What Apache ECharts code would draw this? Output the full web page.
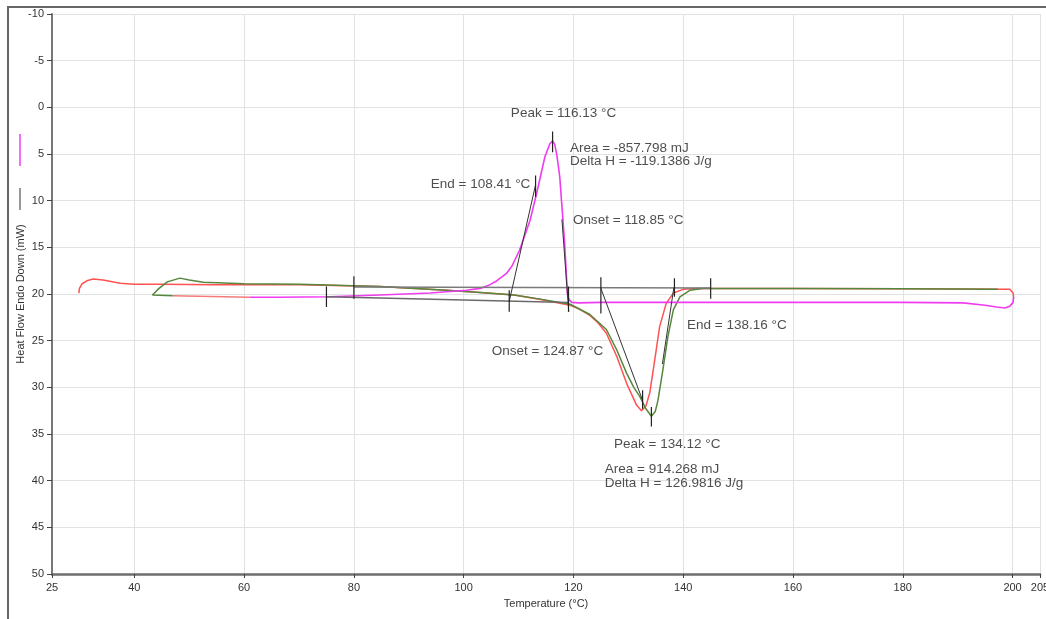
<!DOCTYPE html>
<html>
<head>
<meta charset="utf-8">
<script src="https://cdn.jsdelivr.net/npm/echarts@6/dist/echarts.min.js"></script>
<style>
html,body{margin:0;padding:0;background:#fff;}
#chart{width:1046px;height:619px;}
</style>
</head>
<body>
<div id="chart"></div>
<script>
// ---- Data (temperature °C, heat flow mW) ----
const xTickValues = [25, 40, 60, 80, 100, 120, 140, 160, 180, 200, 205];
const yMin = -10, yMax = 50, yStep = 5;

// First heating (red)
const heat1 = [[29.9,19.9],[30.0,19.4],[30.5,18.9],[31.5,18.55],[32.5,18.4],[34.3,18.5],[37.4,18.85],[40,18.95],[44.7,18.96],[55,19.0],[70.2,19.0],[84.7,19.2],[96.9,19.6],[103,19.85],[109.2,20.1],[114,20.6],[119.4,21.2],[121,21.6],[123,22.3],[124.5,23.1],[126,24.2],[127.9,26.7],[129.7,29.6],[131.5,31.9],[132.4,32.5],[133.2,32.0],[133.9,30.6],[134.8,27.1],[135.7,23.5],[136.9,21.0],[138.2,19.9],[140,19.5],[142.4,19.4],[160,19.4],[180,19.45],[199.5,19.5],[200.1,19.9],[200.2,20.3]];

// Cooling (magenta)
const cooling = [[200.2,20.3],[200.1,20.9],[199.5,21.3],[198.6,21.5],[197.1,21.4],[195,21.2],[191,20.95],[180,20.9],[160,20.9],[140,20.9],[125,20.9],[121,20.95],[119.7,20.9],[119.2,20.6],[118.9,20.0],[118.4,14.6],[117.5,7.4],[117,5.2],[116.6,4.0],[116.2,3.6],[115.7,3.9],[114.8,5.3],[113.3,9.2],[112.1,12.1],[110.2,15.3],[108.8,17.0],[107.8,17.8],[106,18.6],[104.8,19.0],[103,19.4],[100.5,19.6],[93.9,19.9],[84.7,20.1],[75.6,20.3],[66.5,20.35],[61,20.35]];

// End of cooling drawn in light red
const coolingTail = [[61,20.35],[47,20.2]];

// Second heating (green)
const heat2 = [[47,20.2],[43.3,20.1],[44.5,19.4],[46,18.7],[48.3,18.3],[50,18.5],[52.6,18.75],[60,18.9],[70.2,18.96],[84.7,19.2],[96.9,19.6],[103,19.85],[109.2,20.1],[114,20.55],[119.4,21.1],[123,22.2],[126,23.8],[127.9,26.0],[129.7,28.5],[131,30.0],[132.1,31.0],[133.2,32.3],[134.2,33.1],[134.9,32.6],[135.4,31.4],[136.3,28.1],[137.2,24.6],[138.2,21.7],[139.4,20.3],[141.2,19.6],[143.6,19.4],[160,19.42],[180,19.45],[197.3,19.5]];

// Baselines and tangents
const upperBaseline = [[80,19.25],[145,19.35]];
const lowerBaseline = [[75,20.3],[119.1,20.9]];
const tangentCoolLeft = [[108.3,20.8],[113.1,8.3]];
const tangentCoolRight = [[117.9,12],[119.15,21.9]];
const tangentHeatLeft = [[125.0,19.4],[132.6,31.4]];
const tangentHeatRight = [[136.2,27.5],[138.3,19.3]];

// Vertical marker ticks: [x, yFrom, yTo]
const markerTicks = [[75,19.2,21.4],[80,18.1,20.5],[108.3,19.6,21.9],[113.1,7.3,9.6],[116.2,2.6,4.8],[119.1,19.2,21.9],[125.0,18.2,22.1],[132.6,30.3,32.3],[134.2,32.1,34.2],[138.4,18.3,20.3],[145.0,18.3,20.5]];

// Annotation texts: [x, y, text]
const annotations = [
  [108.6, 0.6, 'Peak = 116.13 °C'],
  [119.35, 4.36, 'Area = -857.798 mJ'],
  [119.35, 5.75, 'Delta H = -119.1386 J/g'],
  [94.0, 8.2, 'End = 108.41 °C'],
  [119.9, 12.07, 'Onset = 118.85 °C'],
  [105.1, 26.1, 'Onset = 124.87 °C'],
  [140.7, 23.3, 'End = 138.16 °C'],
  [127.4, 36.1, 'Peak = 134.12 °C'],
  [125.7, 38.75, 'Area = 914.268 mJ'],
  [125.7, 40.25, 'Delta H = 126.9816 J/g']
];

const xName = 'Temperature (°C)';
const yName = 'Heat Flow Endo Down (mW)';

// ---- Chart ----
const chart = echarts.init(document.getElementById('chart'), null, {renderer: 'canvas'});
const FONT = 'Liberation Sans, Arial, sans-serif';

function curve(name, data, color, width, z) {
  return {name, type: 'line', data, showSymbol: false, symbol: 'none', smooth: false,
    lineStyle: {color, width}, z: z || 2, silent: true, animation: false};
}

const series = [
  curve('heat1', heat1, '#ff5252', 1.5, 2),
  curve('coolingTail', coolingTail, '#f47a7a', 1.5, 2),
  curve('heat2', heat2, '#55883d', 1.5, 3),
  curve('cooling', cooling, '#f03cf0', 1.6, 4),
  curve('upperBaseline', upperBaseline, '#7a7a7a', 1.5, 5),
  curve('lowerBaseline', lowerBaseline, '#6a6a6a', 1.5, 5),
  curve('tCL', tangentCoolLeft, '#333', 1, 6),
  curve('tCR', tangentCoolRight, '#333', 1, 6),
  curve('tHL', tangentHeatLeft, '#333', 1, 6),
  curve('tHR', tangentHeatRight, '#333', 1, 6)
];
markerTicks.forEach((t, i) => {
  series.push(curve('tick' + i, [[t[0], t[1]], [t[0], t[2]]], '#222', 1.2, 7));
});
series.push({
  name: 'annotations', type: 'scatter', symbolSize: 0, z: 8, silent: true, animation: false,
  data: annotations.map(a => ({value: [a[0], a[1]], text: a[2]})),
  label: {show: true, position: 'right', distance: 0, formatter: p => p.data.text,
    color: '#222', fontSize: 13.5, fontFamily: FONT, align: 'left', verticalAlign: 'middle'}
});

chart.setOption({
  animation: false,
  backgroundColor: '#fff',
  grid: {left: 52, right: 6, top: 14, bottom: 45, containLabel: false, outerBoundsMode: 'none'},
  xAxis: {
    type: 'value', min: 25, max: 205,
    name: xName, nameLocation: 'middle', nameGap: 24, nameMoveOverlap: false,
    nameTextStyle: {color: '#333', fontSize: 11, fontFamily: FONT},
    axisLine: {show: true, onZero: false, lineStyle: {color: '#6e6e6e', width: 2.5}},
    axisTick: {show: true, length: 4, lineStyle: {color: '#444'}, customValues: xTickValues},
    axisLabel: {color: '#333', fontSize: 11, fontFamily: FONT, margin: 8, customValues: xTickValues},
    splitLine: {show: true, lineStyle: {color: '#e2e2e2', width: 1}}
  },
  yAxis: {
    type: 'value', inverse: true, min: yMin, max: yMax, interval: yStep,
    name: yName, nameLocation: 'middle', nameGap: 26, nameMoveOverlap: false,
    nameTextStyle: {color: '#333', fontSize: 11, fontFamily: FONT},
    axisLine: {show: true, onZero: false, lineStyle: {color: '#777', width: 2}},
    axisTick: {show: true, length: 5, lineStyle: {color: '#444'}},
    axisLabel: {color: '#333', fontSize: 11, fontFamily: FONT, margin: 8},
    splitLine: {show: true, lineStyle: {color: '#e2e2e2', width: 1}}
  },
  graphic: [
    {type: 'rect', shape: {x: 8, y: 7, width: 1100, height: 700}, style: {fill: 'none', stroke: '#666', lineWidth: 2}, z: 100, silent: true},
    {type: 'line', shape: {x1: 20, y1: 134, x2: 20, y2: 166}, style: {stroke: '#f03cf0', lineWidth: 1.5}, silent: true},
    {type: 'line', shape: {x1: 20, y1: 188, x2: 20, y2: 210}, style: {stroke: '#333', lineWidth: 1}, silent: true}
  ],
  series
});
</script>
</body>
</html>
